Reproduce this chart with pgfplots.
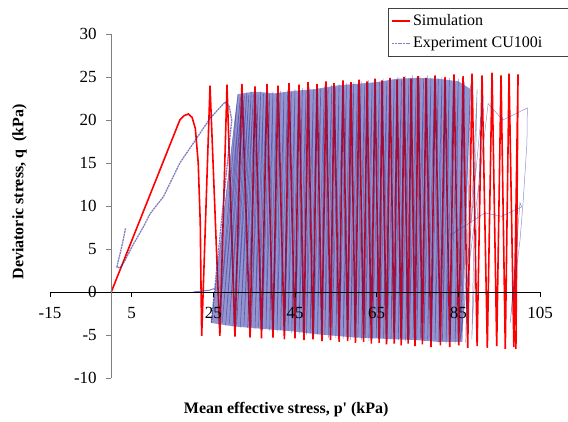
\documentclass[border=0pt]{standalone}
\usepackage{fontspec}
\setmainfont{Liberation Serif}
\usepackage{pgfplots}
\pgfplotsset{compat=1.18}

\definecolor{simred}{RGB}{255,0,0}
\definecolor{expblue}{RGB}{40,40,150}
\definecolor{navy}{RGB}{30,30,130}
\definecolor{lav}{RGB}{200,200,240}

\pgfplotstableread{
x y
24.5 -3.6
31.0 23.0
35 23.3
40 23.1
45 23.4
50 23.6
55 24.0
60 24.2
65 24.4
70 24.8
75 24.9
80 24.8
85 24.5
88 23.6
86 -5.8
80 -5.8
75 -5.6
70 -5.5
65 -5.4
60 -5.3
55 -5.1
50 -4.9
45 -4.6
40 -4.4
35 -4.2
30 -4.0
24.5 -3.6
}\bandtable

\begin{document}
\begin{tikzpicture}
\useasboundingbox (-50pt,-43pt) rectangle (518pt,378pt);
\begin{axis}[
    scale only axis,
    width=490pt, height=344pt,
    xmin=-15, xmax=105, ymin=-10, ymax=30,
    axis lines=middle,
    axis on top,
    axis line style={-},
    x axis line style={black, line width=0.8pt},
    y axis line style={gray, line width=0.8pt},
    xtick={-15,5,...,105},
    ytick={-10,-5,...,30},
    tick align=outside,
    major tick length=5pt,
    xtick style={black, line width=0.8pt},
    ytick style={gray, line width=0.8pt},
    hide obscured x ticks=false,
    hide obscured y ticks=false,
    /pgf/number format/assume math mode=true,
    x tick label style={font=\fontsize{17}{19}\selectfont, yshift=-7pt},
    y tick label style={font=\fontsize{17}{19}\selectfont, xshift=-6pt},
    every axis x label/.style={at={(axis description cs:0.482,-0.093)}, anchor=center,
        font=\bfseries\fontsize{16}{18}\selectfont},
    every axis y label/.style={at={(axis description cs:-0.062,0.541)}, anchor=center,
        rotate=90, font=\bfseries\fontsize{16}{18}\selectfont},
    xlabel={Mean effective stress, p\textquotesingle{} (kPa)},
    ylabel={Deviatoric stress, q\ \ (kPa)},
    legend cell align=left,
    legend image code/.code={\draw[#1] (0pt,0pt) -- (18pt,0pt);},
    legend style={at={(axis description cs:0.69,1.0756)}, anchor=north west,
        draw=black!75, line width=0.6pt, fill=white,
        font=\fontsize{16}{18}\selectfont,
        nodes={text height=13pt, text depth=5pt}},
]

% pale body of the dense experimental loops
\addplot[fill=lav, draw=none, forget plot] table {\bandtable};

% simulation
\addplot[simred, line width=1.6pt] coordinates {
    (0,0) (16.8,20.0) (17.8,20.5) (18.9,20.7) (19.8,20.3) (20.6,19.0) (21.3,15.0)
    (21.8,8.0) (22.0,0.0) (22.15,-5.1)
    (24.19,24.0) (26.6,-5.1) (28.35,24.1) (30.3,-5.2) (32.0,24.2) (34.0,-5.3)
    (35.2,23.9) (36.8,-5.4) (38.15,24.2) (39.6,-5.3) (40.84,24.0) (42.4,-5.5)
    (43.54,24.3) (45.0,-5.4) (45.98,24.1) (47.2,-5.6) (48.19,24.4) (49.4,-5.5)
    (50.39,24.2) (51.6,-5.7) (52.6,24.5) (53.7,-5.6) (54.56,24.3) (55.8,-5.8)
    (56.76,24.6) (57.9,-5.7) (58.72,24.4) (59.8,-5.9) (60.68,24.7) (61.8,-5.8)
    (62.64,24.5) (63.7,-6.0) (64.6,24.8) (65.6,-5.9) (66.31,24.6) (67.4,-6.1)
    (68.27,24.9) (69.3,-6.0) (69.99,24.7) (71.0,-6.2) (71.7,25.0) (72.7,-6.0)
    (73.42,24.8) (74.4,-6.3) (75.13,25.1) (76.2,-6.1) (77.09,24.9) (78.3,-6.4)
    (79.3,25.2) (80.6,-6.2) (81.75,25.0) (82.9,-6.4) (83.95,25.3) (85.1,-6.2)
    (86.16,25.1) (87.3,-6.5) (88.36,25.4) (89.6,-6.3) (90.81,25.2) (92.1,-6.5)
    (93.26,25.5) (94.4,-6.3) (95.46,25.2) (96.5,-6.6) (97.42,25.4) (98.6,-6.4)
    (99.62,25.3) (99.1,-6.6)
};

% experiment CU100i: monotonic part
\addplot[expblue, line width=1.3pt, opacity=0.6, dash pattern=on 2pt off 0.7pt] coordinates {
    (3.5,7.4) (2.9,6.0) (2.2,4.5) (1.5,3.2) (1.4,2.9) (2.2,2.8) (3.3,3.6)
    (5.0,5.2) (7.9,7.6) (9.5,9.1) (12.8,11.1) (16.8,15.0) (20.1,17.3)
    (24.2,20.2) (27.9,22.1) (28.9,21.6) (29.5,20.0) (24.5,-3.6)
};

% tint of the dense loops laid over the simulation
\addplot[fill=navy, fill opacity=0.3, draw=none, forget plot] table {\bandtable};

% experiment CU100i: cyclic part
\addplot[expblue, line width=0.5pt, opacity=0.5, forget plot] coordinates {
    (24.5,-3.6)
    (31.0,23.0) (26.3,-3.8) (31.6,22.6) (27.2,-3.5) (32.1,23.1) (28.0,-3.9)
    (32.6,22.8) (28.9,-3.7) (33.2,23.2) (29.8,-4.0) (33.7,22.9) (30.7,-3.8)
    (34.3,23.3) (31.6,-4.1) (34.8,23.0) (32.5,-3.9) (35.4,23.2) (33.4,-4.2)
    (36.0,22.9) (34.3,-4.0) (36.6,23.3) (35.2,-4.3) (37.3,23.1) (36.1,-4.1)
    (38.0,23.4) (37.0,-4.4) (38.8,23.0) (37.9,-4.2) (39.6,23.3) (38.8,-4.5)
    (40.5,23.1) (39.7,-4.3) (41.4,23.4) (40.6,-4.6) (42.3,23.2) (41.5,-4.4)
    (43.2,23.5) (42.4,-4.7) (44.1,23.2) (43.3,-4.5) (45.0,23.6) (44.2,-4.8)
    (45.9,23.3) (45.1,-4.6) (46.8,23.7) (46.0,-4.9) (47.7,23.4) (46.9,-4.7)
    (48.6,23.8) (47.8,-5.0) (49.5,23.5) (48.7,-4.8) (50.4,23.9) (49.6,-5.1)
    (51.3,23.6) (50.5,-4.9) (52.2,24.0) (51.4,-5.2) (53.1,23.7) (52.3,-5.0)
    (54.0,24.1) (53.2,-5.3) (54.9,23.8) (54.1,-5.1) (55.8,24.2) (55.0,-5.4)
    (56.7,23.9) (55.9,-5.2) (57.6,24.3) (56.8,-5.5) (58.5,24.0) (57.7,-5.3)
    (59.4,24.4) (58.6,-5.6) (60.3,24.1) (59.5,-5.4) (61.2,24.5) (60.4,-5.3)
    (62.1,24.2) (61.3,-5.6) (63.0,24.6) (62.2,-5.4) (63.9,24.3) (63.1,-5.7)
    (64.8,24.7) (64.0,-5.5) (65.7,24.4) (64.9,-5.3) (66.6,24.8) (65.8,-5.6)
    (67.5,24.5) (66.7,-5.4) (68.4,24.9) (67.6,-5.7) (69.3,24.6) (68.5,-5.5)
    (70.2,25.0) (69.4,-5.3) (71.1,24.7) (70.3,-5.6) (72.0,25.1) (71.2,-5.4)
    (72.9,24.8) (72.1,-5.7) (73.8,25.2) (73.0,-5.5) (74.7,24.9) (73.9,-5.3)
    (75.6,25.1) (74.8,-5.6) (76.5,24.8) (75.7,-5.4) (77.4,25.2) (76.6,-5.7)
    (78.3,24.9) (77.5,-5.5) (79.2,25.1) (78.4,-5.8) (80.1,24.8) (79.3,-5.6)
    (81.0,25.0) (80.2,-5.9) (81.9,24.7) (81.1,-5.7) (82.8,24.9) (82.0,-6.0)
    (83.8,24.6) (83.0,-5.8) (85.0,24.8) (84.2,-6.0) (86.5,24.4) (85.5,-5.7)
    (88.0,24.2) (86.8,-5.9) (89.6,23.6) (88.3,-5.5) (91.0,22.8) (85.6,-5.3)
    (92.3,21.9) (95.9,20.0) (101.9,21.4) (101.8,17.3) (100.9,10.7) (100.1,6.0)
    (99.3,2.9) (98.5,-0.2) (97.7,-3.6) (100.1,10.4) (100.5,9.9) (95.6,8.8)
    (91.5,9.2) (87.0,7.8) (83.0,6.6)
};

% short branch along the p' axis
\addplot[expblue, line width=1.0pt, opacity=0.6, forget plot] coordinates {
    (20.1,0.0) (22.0,0.1) (24.0,0.2) (25.2,0.4)
};

\legend{Simulation, Experiment CU100i\hspace*{60pt}}
\end{axis}
\end{tikzpicture}
\end{document}
